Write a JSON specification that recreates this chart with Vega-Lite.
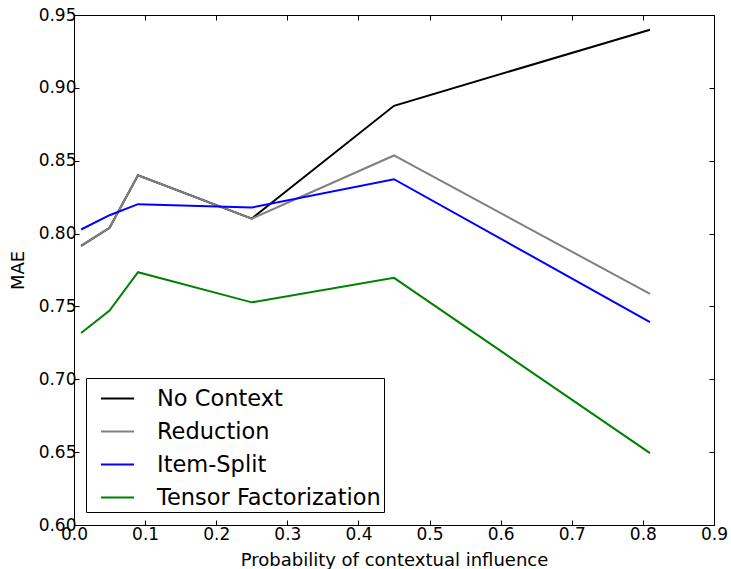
{
  "$schema": "https://vega.github.io/schema/vega-lite/v6.json",
  "autosize": "none",
  "width": 640,
  "height": 510,
  "padding": {"left": 74, "top": 15, "right": 17, "bottom": 44},
  "background": "white",
  "config": {
    "font": "DejaVu Sans",
    "view": {"stroke": "black", "strokeWidth": 1},
    "axis": {"grid": false, "domain": false, "tickColor": "black", "tickSize": -5, "labelFlush": false, "labelColor": "black", "titleColor": "black", "labelFont": "DejaVu Sans", "titleFont": "DejaVu Sans", "labelFontSize": 17, "titleFontSize": 18, "titleFontWeight": "normal"}
  },
  "data": {
    "values": [
      {"p": 0.01, "mae": 0.7915, "method": "No Context"},
      {"p": 0.05, "mae": 0.804, "method": "No Context"},
      {"p": 0.09, "mae": 0.840, "method": "No Context"},
      {"p": 0.25, "mae": 0.8103, "method": "No Context"},
      {"p": 0.45, "mae": 0.8877, "method": "No Context"},
      {"p": 0.81, "mae": 0.9399, "method": "No Context"},
      {"p": 0.01, "mae": 0.7915, "method": "Reduction"},
      {"p": 0.05, "mae": 0.804, "method": "Reduction"},
      {"p": 0.09, "mae": 0.840, "method": "Reduction"},
      {"p": 0.25, "mae": 0.8103, "method": "Reduction"},
      {"p": 0.45, "mae": 0.8536, "method": "Reduction"},
      {"p": 0.81, "mae": 0.7586, "method": "Reduction"},
      {"p": 0.01, "mae": 0.8028, "method": "Item-Split"},
      {"p": 0.05, "mae": 0.8126, "method": "Item-Split"},
      {"p": 0.09, "mae": 0.8202, "method": "Item-Split"},
      {"p": 0.25, "mae": 0.8179, "method": "Item-Split"},
      {"p": 0.45, "mae": 0.8373, "method": "Item-Split"},
      {"p": 0.81, "mae": 0.7393, "method": "Item-Split"},
      {"p": 0.01, "mae": 0.7318, "method": "Tensor Factorization"},
      {"p": 0.05, "mae": 0.7471, "method": "Tensor Factorization"},
      {"p": 0.09, "mae": 0.7735, "method": "Tensor Factorization"},
      {"p": 0.25, "mae": 0.7528, "method": "Tensor Factorization"},
      {"p": 0.45, "mae": 0.7696, "method": "Tensor Factorization"},
      {"p": 0.81, "mae": 0.6493, "method": "Tensor Factorization"}
    ]
  },
  "layer": [
    {
      "mark": {"type": "line", "strokeWidth": 2},
      "encoding": {
        "x": {"field": "p", "type": "quantitative", "scale": {"domain": [0, 0.9], "nice": false}, "axis": {"orient": "bottom", "values": [0,0.1,0.2,0.3,0.4,0.5,0.6,0.7,0.8,0.9], "format": ".1f", "title": "Probability of contextual influence", "labelPadding": 6, "titleBaseline": "alphabetic", "titleY": 40}},
        "y": {"field": "mae", "type": "quantitative", "scale": {"domain": [0.6, 0.95], "nice": false, "zero": false}, "axis": {"orient": "left", "values": [0.6,0.65,0.7,0.75,0.8,0.85,0.9,0.95], "format": ".2f", "title": "MAE", "labelPadding": 3, "titleBaseline": "alphabetic", "titleX": -51}},
        "color": {"field": "method", "type": "nominal", "sort": ["No Context", "Reduction", "Item-Split", "Tensor Factorization"],
          "scale": {"domain": ["No Context", "Reduction", "Item-Split", "Tensor Factorization"], "range": ["#000000", "#808080", "#0000ff", "#008000"]},
          "legend": {"orient": "none", "legendX": 12, "legendY": 363, "title": null, "strokeColor": "black", "fillColor": "white", "padding": 3, "symbolOffset": 11, "symbolType": "stroke", "symbolSize": 1089, "symbolStrokeWidth": 2, "labelFontSize": 22.5, "labelLimit": 0, "labelFont": "DejaVu Sans", "labelColor": "black", "labelOffset": 22, "rowPadding": 4, "cornerRadius": 0}}
      }
    },
    {
      "mark": {"type": "line", "strokeOpacity": 0},
      "encoding": {
        "x": {"field": "p", "type": "quantitative", "axis": {"orient": "top", "values": [0,0.1,0.2,0.3,0.4,0.5,0.6,0.7,0.8,0.9], "labels": false, "title": null}},
        "y": {"field": "mae", "type": "quantitative", "axis": {"orient": "right", "values": [0.6,0.65,0.7,0.75,0.8,0.85,0.9,0.95], "labels": false, "title": null}}
      }
    }
  ],
  "resolve": {"axis": {"x": "independent", "y": "independent"}}
}
